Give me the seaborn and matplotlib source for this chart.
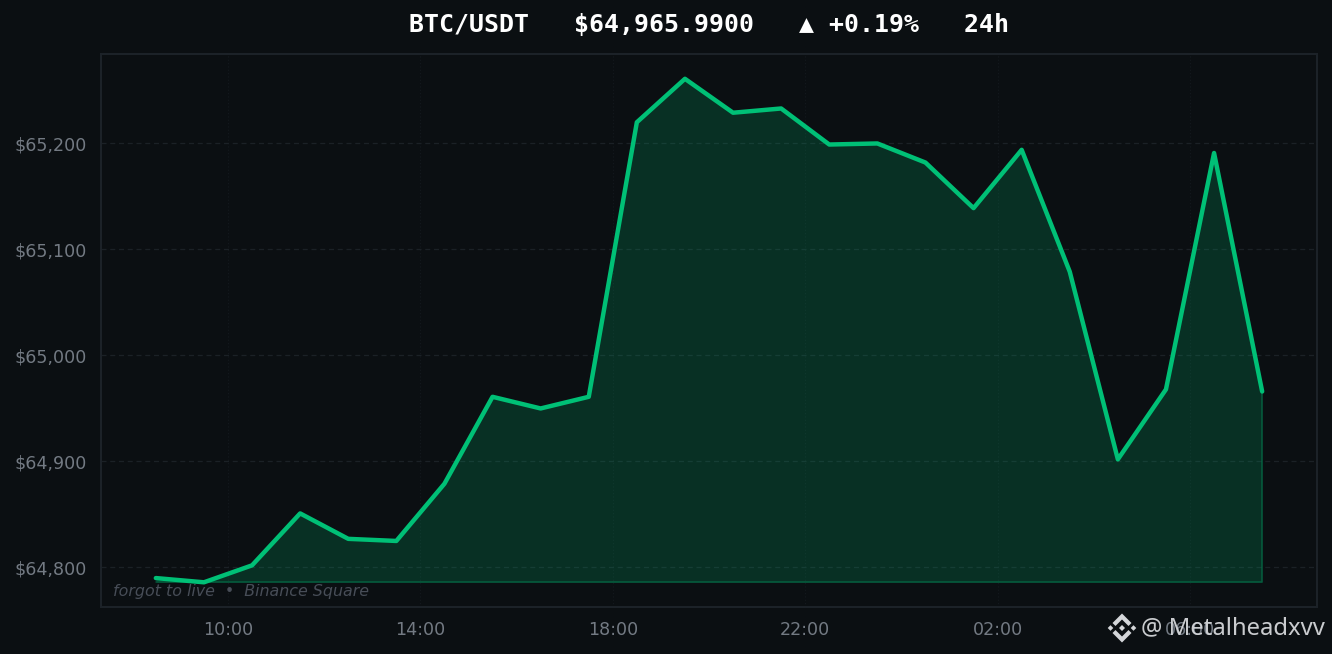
import matplotlib
matplotlib.use("Agg")
import matplotlib.pyplot as plt
from matplotlib.patches import Polygon
import pandas as pd
import seaborn as sns

hours = [8.5 + i for i in range(24)]
prices = [64790, 64786, 64802, 64851, 64827, 64825, 64879, 64961, 64950, 64961,
          65220, 65261, 65229, 65233, 65199, 65200, 65182, 65139, 65194, 65079,
          64902, 64968, 65191, 64966]
x_ticks = [10, 14, 18, 22, 26, 30]
x_labels = ["10:00", "14:00", "18:00", "22:00", "02:00", "06:00"]
y_ticks = [64800, 64900, 65000, 65100, 65200]
y_labels = ["$64,800", "$64,900", "$65,000", "$65,100", "$65,200"]
title = "BTC/USDT   $64,965.9900   ▲ +0.19%   24h"
note = "forgot to live  •  Binance Square"
mark = "@ Metalheadxvv"

BG = "#0b0f12"
GREEN = "#00c076"
W, H = 1332, 654

sns.set_theme(style="dark", rc={"font.family": ["DejaVu Sans"]})
fig = plt.figure(figsize=(W / 100, H / 100), dpi=100, facecolor=BG)
ax = fig.add_axes([101 / W, (H - 607) / H, 1216 / W, 553 / H], facecolor=BG)

df = pd.DataFrame({"hour": hours, "price": prices})
base = min(prices)
ax.fill_between(df["hour"], df["price"], base, facecolor=GREEN, alpha=0.19, linewidth=0, zorder=2)
ax.plot([hours[0], hours[-1], hours[-1]], [base, base, prices[-1]], color=GREEN, alpha=0.3, lw=1.2, zorder=2)
sns.lineplot(data=df, x="hour", y="price", color=GREEN, linewidth=3.2, ax=ax, zorder=3, errorbar=None)

ax.set_xlim(7.36, 32.64)
ax.set_ylim(64762.7, 65284.4)
ax.set_xticks(x_ticks, x_labels)
ax.set_yticks(y_ticks, y_labels)
ax.set_xlabel("")
ax.set_ylabel("")
ax.tick_params(axis="x", length=0, labelsize=12.6, labelcolor="#737a83", pad=10)
ax.tick_params(axis="y", length=0, labelsize=12.6, labelcolor="#737a83", pad=10)
ax.grid(axis="y", color="#1b2126", lw=0.9, ls=(0, (4, 3)), zorder=1)
ax.grid(axis="x", color="#14191e", lw=0.8, ls=(0, (1, 2)), zorder=1)
ax.set_axisbelow(True)
for s in ax.spines.values():
    s.set_visible(True)
    s.set_color("#1c2228")
    s.set_linewidth(1.5)

fig.text(709 / W, 1 - 25.5 / H, title, color="white", ha="center", va="center",
         fontsize=17.9, family="DejaVu Sans Mono", fontweight="bold")
ax.text(113, H - 591.5, note, transform=None, color="#474d57", fontsize=11.4,
        style="italic", ha="left", va="center", zorder=4)

# Watermark
fig.text(1141 / W, 1 - 628 / H, mark, color="#d4d6d9", alpha=0.95, ha="left", va="center",
         fontsize=17.2, family="Noto Sans", zorder=10)
cx, cy = 1122, 628
def diamond(dx, dy, r):
    pts = [(cx + dx, H - cy - dy + r), (cx + dx + r, H - cy - dy),
           (cx + dx, H - cy - dy - r), (cx + dx - r, H - cy - dy)]
    fig.add_artist(Polygon(pts, closed=True, transform=None, facecolor="#d4d6d9", edgecolor="none", zorder=10))
def chevron(sign):
    tip = H - cy + sign * 14.5
    s = -sign
    pts = [(cx, tip), (cx + 9.5, tip + s * 9.5), (cx + 6.5, tip + s * 12.5),
           (cx, tip + s * 6), (cx - 6.5, tip + s * 12.5), (cx - 9.5, tip + s * 9.5)]
    fig.add_artist(Polygon(pts, closed=True, transform=None, facecolor="#d4d6d9", edgecolor="none", zorder=10))
chevron(1)
chevron(-1)
diamond(0, 0, 3)
diamond(-11.5, 0, 2.8)
diamond(11.5, 0, 2.8)

fig.savefig("out.png", dpi=100, facecolor=BG)
